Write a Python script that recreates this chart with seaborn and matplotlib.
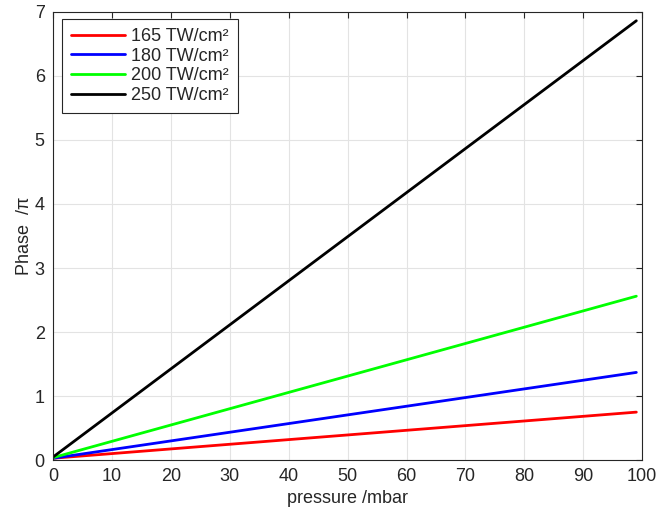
import numpy as np
import pandas as pd
import matplotlib
matplotlib.use("Agg")
import matplotlib.pyplot as plt
import seaborn as sns

# Pressure sweep endpoints (mbar) and accumulated phase (in units of pi)
pressure = [0, 99]
phase_165 = [0.03, 0.75]
phase_180 = [0.03, 1.37]
phase_200 = [0.04, 2.56]
phase_250 = [0.05, 6.86]
labels = ["165 TW/cm²", "180 TW/cm²", "200 TW/cm²", "250 TW/cm²"]
colors = ["#ff0000", "#0000ff", "#00ff00", "#000000"]

rows = []
for lab, vals in zip(labels, [phase_165, phase_180, phase_200, phase_250]):
    for p, v in zip(pressure, vals):
        rows.append({"pressure": p, "phase": v, "intensity": lab})
df = pd.DataFrame(rows)

sns.set_theme(style="white")
plt.rcParams["font.family"] = ["Liberation Sans", "DejaVu Sans"]

fig = plt.figure(figsize=(6.56, 5.13), dpi=100)
ax = fig.add_axes([0.081, 0.103, 0.898, 0.874])

sns.lineplot(data=df, x="pressure", y="phase", hue="intensity",
             palette=dict(zip(labels, colors)), hue_order=labels,
             linewidth=2, ax=ax)

ax.set_xlim(0, 100)
ax.set_ylim(0, 7)
ax.set_xticks(np.arange(0, 101, 10))
ax.set_yticks(np.arange(0, 8, 1))
ax.grid(True, color="#e3e3e3", linewidth=0.8)
ax.tick_params(direction="in", length=4, top=True, right=True,
               labelsize=13, colors="#262626", width=0.8, pad=6)
for s in ax.spines.values():
    s.set_color("#262626")
    s.set_linewidth(0.8)
ax.set_xlabel("pressure /mbar", fontsize=13, labelpad=3)
ax.set_ylabel("Phase  /π", fontsize=13, labelpad=1)

leg = ax.legend(loc="upper left", fontsize=13, frameon=True, fancybox=False,
                edgecolor="#262626", framealpha=1, borderpad=0.5,
                handlelength=3.0, handletextpad=0.35, labelspacing=0.15,
                borderaxespad=0, bbox_to_anchor=(0.015, 0.984))
leg.get_frame().set_linewidth(0.8)

fig.savefig("out.png", dpi=100)
